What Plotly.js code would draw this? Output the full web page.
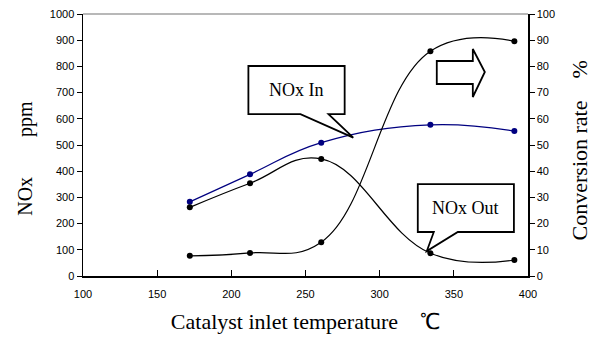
<!DOCTYPE html>
<html>
<head>
<meta charset="utf-8">
<script src="https://cdn.plot.ly/plotly-3.0.1.min.js"></script>
<style>html,body{margin:0;padding:0;background:#fff;}#chart{width:600px;height:338px;}</style>
</head>
<body>
<div id="chart"></div>
<script>
// Data
const temperatures = [172, 212.6, 260.6, 334.2, 390.8];      // Catalyst inlet temperature (°C)
const noxIn       = [283, 388, 509, 577, 553];               // NOx In (ppm)
const noxOut      = [262, 354, 447, 87, 61];                 // NOx Out (ppm)
const conversion  = [7.7, 8.8, 12.9, 85.8, 89.6];            // Conversion rate (%)

const xTicks  = [100, 150, 200, 250, 300, 350, 400];
const yTicks  = [0, 100, 200, 300, 400, 500, 600, 700, 800, 900, 1000];
const y2Ticks = [0, 10, 20, 30, 40, 50, 60, 70, 80, 90, 100];

const serif = '"Liberation Serif", "Times New Roman", serif';
const sans  = '"Liberation Sans", Arial, sans-serif';

const traces = [
  {x: temperatures, y: noxIn, name: 'NOx In', type: 'scatter', mode: 'lines+markers',
   line: {color: '#000080', width: 1.2, shape: 'spline', smoothing: 1.2},
   marker: {color: '#000080', size: 6}},
  {x: temperatures, y: noxOut, name: 'NOx Out', type: 'scatter', mode: 'lines+markers',
   line: {color: '#000000', width: 1.2, shape: 'spline', smoothing: 1.2},
   marker: {color: '#000000', size: 6}},
  {x: temperatures, y: conversion, name: 'Conversion rate', type: 'scatter', mode: 'lines+markers',
   yaxis: 'y2',
   line: {color: '#000000', width: 1.2, shape: 'spline', smoothing: 1.2},
   marker: {color: '#000000', size: 6}}
];

// callout helpers (decorations, in data coords)
function callout(x0, x1, yTop, yBot, bx0, bx1, tx, ty) {
  return 'M' + x0 + ',' + yTop + ' L' + x1 + ',' + yTop + ' L' + x1 + ',' + yBot +
         ' L' + bx1 + ',' + yBot + ' L' + tx + ',' + ty + ' L' + bx0 + ',' + yBot +
         ' L' + x0 + ',' + yBot + ' Z';
}

const layout = {
  width: 600, height: 338,
  margin: {l: 83, r: 72, t: 14, b: 62, pad: 0},
  paper_bgcolor: '#ffffff', plot_bgcolor: '#ffffff',
  showlegend: false,
  font: {family: sans, size: 11, color: '#000'},
  xaxis: {
    range: [100, 400], tickvals: xTicks, ticktext: xTicks.map(String),
    showgrid: false, zeroline: false, showline: true, linecolor: '#000', linewidth: 1.5,
    ticks: 'inside', ticklen: 6, tickcolor: '#000', tickwidth: 1, ticklabelstandoff: 7,
    tickfont: {family: sans, size: 11, color: '#000'},
    title: {text: 'Catalyst inlet temperature\u3000\u2103', font: {family: serif, size: 22, color: '#000'}, standoff: 15}
  },
  yaxis: {
    range: [0, 1000], tickvals: yTicks, ticktext: yTicks.map(String),
    showgrid: false, zeroline: false, showline: true, linecolor: '#000', linewidth: 1.5,
    ticks: 'outside', ticklen: 5, tickcolor: '#000', tickwidth: 1,
    tickfont: {family: sans, size: 11, color: '#000'}
  },
  yaxis2: {
    range: [0, 100], tickvals: y2Ticks, ticktext: y2Ticks.map(String),
    overlaying: 'y', side: 'right',
    showgrid: false, zeroline: false, showline: true, linecolor: '#000', linewidth: 1.5,
    ticks: 'outside', ticklen: 5, tickcolor: '#000', tickwidth: 1,
    tickfont: {family: sans, size: 11, color: '#000'}
  },
  shapes: [
    {type: 'line', xref: 'paper', yref: 'paper', x0: 0, x1: 1, y0: 1, y1: 1,
     line: {color: '#a0a0a0', width: 1.5}},
    {type: 'path', xref: 'x', yref: 'y', layer: 'above',
     path: callout(211.5, 276.4, 801.5, 618, 246.6, 265.5, 282.2, 528),
     fillcolor: '#ffffff', line: {color: '#000', width: 1.8}},
    {type: 'path', xref: 'x', yref: 'y', layer: 'above',
     path: callout(325.7, 390.5, 351, 168, 336.5, 352.7, 331.8, 95.4),
     fillcolor: '#ffffff', line: {color: '#000', width: 1.8}},
    {type: 'path', xref: 'x', yref: 'y', layer: 'above',
     path: 'M338.5,820.6 L362.8,820.6 L362.8,866.4 L370.9,778.6 L362.8,683.2 L362.8,732.8 L338.5,732.8 Z',
     fillcolor: '#ffffff', line: {color: '#000', width: 1.8}}
  ],
  annotations: [
    {x: 243.9, y: 710, xref: 'x', yref: 'y', text: 'NOx In', showarrow: false,
     font: {family: serif, size: 18, color: '#000'}},
    {x: 358.1, y: 259.5, xref: 'x', yref: 'y', text: 'NOx Out', showarrow: false,
     font: {family: serif, size: 18, color: '#000'}},
    // axis titles (placed as rotated text)
    {x: -0.131, y: 0.45, xref: 'paper', yref: 'paper', xanchor: 'center', yanchor: 'middle',
     text: 'NOx\u3000\u3000ppm', textangle: -90, showarrow: false,
     font: {family: serif, size: 20, color: '#000'}},
    {x: 1.115, y: 0.48, xref: 'paper', yref: 'paper', xanchor: 'center', yanchor: 'middle',
     text: 'Conversion rate\u3000%', textangle: -90, showarrow: false,
     font: {family: serif, size: 22, color: '#000'}}
  ]
};

Plotly.newPlot('chart', traces, layout, {displayModeBar: false, staticPlot: true});
</script>
</body>
</html>
